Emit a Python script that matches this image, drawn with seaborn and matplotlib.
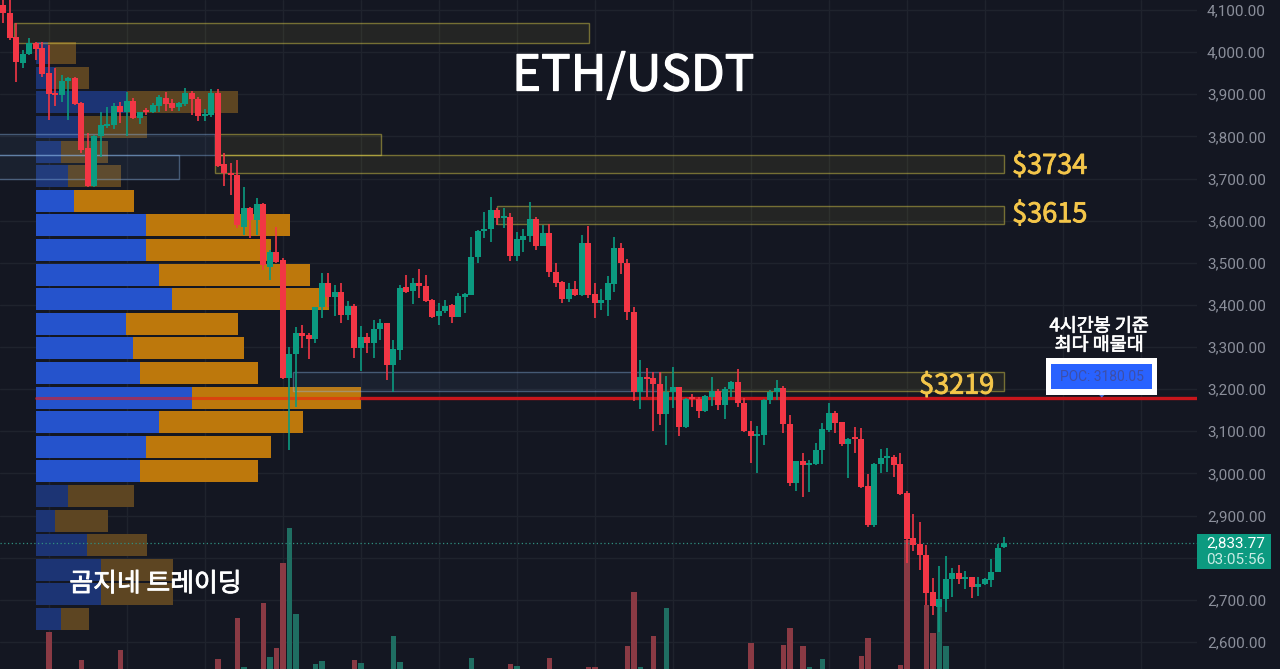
import numpy as np
import pandas as pd
import matplotlib
matplotlib.use("Agg")
import matplotlib.pyplot as plt
import matplotlib.patheffects as pe
from matplotlib.patches import Rectangle, Polygon
import seaborn as sns

# ---------- data ----------
opens = [4112,4093,4036,3974,3995,4022,4010,3950,3903,3898,3931,3939,3879,3772,3682,3801,3825,3827,3872,3858,
         3884,3844,3863,3858,3872,3891,3879,3870,3877,3903,3889,3848,3851,3903,3734,3713,3708,3585,3630,3602,
         3640,3490,3526,3507,3226,3283,3333,3329,3319,3395,3452,3419,3431,3376,3397,3298,3324,3310,3343,3357,
         3257,3293,3443,3433,3452,3445,3412,3374,3386,3400,3371,3419,3424,3514,3575,3580,3625,3606,3609,3516,
         3554,3564,3604,3540,3571,3478,3454,3414,3438,3424,3547,3426,3405,3412,3450,3535,3499,3383,3193,3229,
         3226,3212,3141,3193,3205,3110,3179,3177,3148,3181,3196,3162,3200,3217,3167,3101,3089,3091,3174,3193,
         3203,3117,2977,3030,3020,3022,3056,3103,3143,3122,3070,3084,3082,2970,2878,3022,3037,3039,3022,2954,
         2847,2832,2806,2718,2683,2702,2749,2764,2749,2754,2730,2737,2747,2766,2826]
highs = [4128,4124,4069,4005,4034,4024,4024,4017,3962,3946,3941,3941,3881,3808,3803,3858,3870,3879,3882,3905,
         3891,3858,3867,3879,3898,3905,3889,3882,3915,3908,3893,3865,3912,3912,3761,3737,3744,3680,3632,3654,
         3642,3530,3585,3511,3300,3348,3352,3333,3395,3476,3476,3447,3452,3409,3402,3350,3333,3364,3367,3357,
         3317,3447,3471,3464,3485,3471,3414,3405,3412,3402,3428,3428,3561,3578,3620,3656,3630,3630,3618,3573,
         3580,3644,3609,3590,3592,3499,3457,3452,3457,3566,3587,3452,3438,3469,3561,3547,3509,3395,3269,3250,
         3241,3241,3231,3253,3205,3179,3188,3181,3186,3229,3200,3205,3219,3248,3179,3125,3113,3177,3198,3222,
         3207,3139,3030,3049,3032,3072,3120,3167,3148,3122,3084,3110,3108,2999,3025,3058,3060,3044,3049,2958,
         2904,2885,2830,2752,2780,2804,2776,2783,2768,2754,2754,2752,2797,2833,2849]
lows = [4069,4029,3929,3962,3993,3981,3941,3839,3872,3882,3839,3875,3760,3680,3680,3751,3820,3817,3832,3801,
        3841,3829,3851,3856,3858,3860,3860,3860,3872,3851,3836,3836,3846,3727,3682,3661,3583,3566,3559,3566,
        3483,3459,3500,3224,3056,3158,3298,3272,3310,3369,3395,3374,3357,3364,3274,3243,3286,3274,3317,3222,
        3193,3269,3428,3402,3416,3407,3369,3352,3381,3357,3371,3381,3424,3499,3559,3549,3590,3583,3504,3504,
        3526,3549,3530,3540,3466,3443,3405,3407,3421,3421,3416,3369,3388,3374,3431,3473,3364,3172,3153,3181,
        3101,3115,3067,3155,3089,3108,3158,3132,3146,3160,3150,3129,3181,3158,3098,3025,3001,3067,3165,3174,
        3096,2970,2958,2944,2956,3020,3022,3098,3096,3065,2989,3049,2965,2873,2873,3001,3003,2992,2949,2787,
        2816,2771,2688,2664,2624,2671,2707,2737,2726,2704,2709,2735,2730,2766,2822]
closes = [4093,4033,3976,3995,4022,4007,3948,3901,3898,3931,3939,3877,3768,3682,3801,3827,3829,3872,3858,3884,
          3844,3858,3858,3875,3893,3877,3867,3879,3903,3889,3848,3853,3903,3730,3713,3708,3590,3630,3602,3640,
          3495,3526,3502,3226,3283,3333,3326,3319,3395,3452,3419,3431,3376,3397,3298,3324,3310,3343,3357,3257,
          3295,3440,3431,3452,3445,3409,3371,3386,3397,3371,3421,3426,3514,3575,3580,3625,3606,3609,3516,3556,
          3564,3604,3540,3571,3478,3452,3414,3438,3424,3547,3424,3405,3412,3452,3535,3499,3383,3193,3229,3224,
          3212,3141,3193,3205,3110,3177,3177,3148,3184,3196,3162,3200,3217,3167,3101,3089,3094,3174,3193,3203,
          3117,2977,3030,3020,3025,3056,3105,3143,3120,3070,3082,3082,2968,2878,3022,3037,3039,3020,2951,2844,
          2830,2806,2716,2685,2702,2749,2764,2749,2754,2730,2737,2749,2766,2823,2834]

volume_candle = [7,12,18,33,36,37,40,41,42,43,44,45,48,49,54,55,60,61,72,78,79,84,90,91,96,97,98,100,102,
                 115,120,121,123,124,126,132,133,138,139,142,143,144,145]
volume_value = [48,20,30,21,62,13,77,23,32,117,152,66,16,19,20,17,44,18,22,16,14,22,13,13,34,88,13,44,72,
                37,35,52,34,13,21,24,42,15,140,75,47,80,34]

profile_price = [3998,3939,3881,3823,3764,3706,3647,3589,3530,3472,3414,3355,3297,3238,3180,3122,3063,3005,
                 2946,2888,2830,2771,2713,2654]
profile_buy = [12,19,91,47,25,32,38,110,110,123,136,90,97,104,156,123,110,104,32,19,51,65,65,25]
profile_sell = [28,34,111,64,47,53,60,144,125,151,157,112,111,118,169,144,125,118,66,53,60,72,72,28]
profile_value_area = [False]*6 + [True]*12 + [False]*6

tick_prices = [4100,4000,3900,3800,3700,3600,3500,3400,3300,3200,3100,3000,2900,2800,2700,2600]
tick_labels = ["4,100.00","4,000.00","3,900.00","3,800.00","3,700.00","3,600.00","3,500.00","3,400.00",
               "3,300.00","3,200.00","3,100.00","3,000.00","2,900.00","","2,700.00","2,600.00"]
last_price = 2833.77
poc_price = 3180.05

# zones: first candle, last candle, upper price, lower price
yellow_zones = [(1.7,90.1,4069,4022),(32.6,58.1,3806,3756),(32.6,154,3756,3713),
                (76,154,3635,3592),(101,154,3241,3196)]
blue_zones = [(-1,32.6,3806,3756),(-1,27,3756,3699),(44.5,101,3241,3196)]

# ---------- style ----------
BG = "#141722"
GRID = "#1f232d"
RED = "#f23645"
GREEN = "#0b9a80"
sns.set_theme(style="dark", rc={"figure.facecolor": BG, "axes.facecolor": BG, "savefig.facecolor": BG})
plt.rcParams["font.family"] = ["Noto Sans CJK KR", "DejaVu Sans"]

XLIM = (-0.508, 183.65)
YLIM = (2535.8, 4123.7)
fig = plt.figure(figsize=(12.8, 6.69), dpi=100)
rect = [0, 0, 1197/1280, 1]
ax_base = fig.add_axes(rect, zorder=1)
ax_vol = fig.add_axes(rect, zorder=2, facecolor="none")
ax_prof = fig.add_axes(rect, zorder=3, facecolor="none")
ax = fig.add_axes(rect, zorder=4, facecolor="none")

# grid
ax_base.set_xlim(XLIM); ax_base.set_ylim(YLIM)
ax_base.set_xticks(np.arange(7, 184, 12))
ax_base.set_yticks(tick_prices)
ax_base.set_xticklabels([]); ax_base.set_yticklabels([])
ax_base.grid(True, color=GRID, lw=1)
ax_base.tick_params(length=0)

# volume bars
vol_df = pd.DataFrame({"i": volume_candle, "v": volume_value})
vol_df["up"] = [closes[i] >= opens[i] for i in volume_candle]
for up, col in ((True, "#1f6e62"), (False, "#8a3a44")):
    sns.barplot(data=vol_df[vol_df.up == up], x="i", y="v", native_scale=True, ax=ax_vol,
                color=col, saturation=1, errorbar=None, width=0.85, linewidth=0)
ax_vol.set_xlim(XLIM); ax_vol.set_ylim(11, 680)

# volume profile
prof = pd.DataFrame({"price": profile_price, "buy": profile_buy, "sell": profile_sell,
                     "va": profile_value_area})
prof["total"] = prof.buy + prof.sell
for va, blue, orange in ((True, "#2553cc", "#bd780c"), (False, "#1c3474", "#5d4522")):
    sub = prof[prof.va == va]
    sns.barplot(data=sub, x="total", y="price", orient="y", native_scale=True, ax=ax_prof,
                color=orange, saturation=1, errorbar=None, width=0.9, linewidth=0)
    sns.barplot(data=sub, x="buy", y="price", orient="y", native_scale=True, ax=ax_prof,
                color=blue, saturation=1, errorbar=None, width=0.9, linewidth=0)
ax_prof.set_xlim(-36, 1161); ax_prof.set_ylim(YLIM)

# zones below candles
for x0, x1, top, bot in blue_zones:
    ax.add_patch(Rectangle((x0, bot), x1-x0, top-bot, fc=(0.45, 0.65, 0.9, 0.07),
                           ec=(0.55, 0.72, 0.92, 0.4), lw=1, zorder=1))
for x0, x1, top, bot in yellow_zones:
    ax.add_patch(Rectangle((x0, bot), x1-x0, top-bot, fc=(1, 0.92, 0.25, 0.07),
                           ec=(0.95, 0.88, 0.3, 0.42), lw=1, zorder=1))

# POC line
ax.plot([5, 55], [poc_price, poc_price], color="#f01a10", alpha=0.55, lw=2.2, zorder=2)
ax.plot([55, XLIM[1]], [poc_price, poc_price], color="#c8161c", lw=2.4, zorder=2)
ax.axhline(last_price, color="#2f8f80", lw=0.9, ls=(0, (1, 2)), zorder=2)

# candles
df = pd.DataFrame({"i": range(len(opens)), "o": opens, "h": highs, "l": lows, "c": closes})
df["up"] = df.c >= df.o
df["base"] = df[["o", "c"]].min(axis=1)
df["size"] = (df.c - df.o).abs().clip(lower=4)
ax.vlines(df.i, df.l, df.h, colors=[GREEN if u else RED for u in df.up], lw=1.2, zorder=3)
for up, col in ((True, GREEN), (False, RED)):
    sub = df[df.up == up]
    sns.barplot(data=sub, x="i", y="size", native_scale=True, ax=ax, color=col, saturation=1,
                errorbar=None, width=0.9, linewidth=0, bottom=sub["base"].values, zorder=4)

ax.set_xlim(XLIM); ax.set_ylim(YLIM)

for a in (ax_vol, ax_prof):
    a.set_xticks([]); a.set_yticks([]); a.set_xlabel(""); a.set_ylabel("")
    a.patch.set_visible(False)
for a in (ax_base, ax_vol, ax_prof, ax):
    for s in a.spines.values():
        s.set_visible(False)

# price scale
ax.set_xticks([]); ax.set_xlabel(""); ax.set_ylabel("")
ax.yaxis.tick_right()
ax.set_yticks(tick_prices)
ax.set_yticklabels(tick_labels, fontfamily=["Roboto", "DejaVu Sans"], fontsize=11, color="#8b8f9b")
ax.tick_params(axis="y", length=0, pad=7.2)

# last-price tag
ax.add_patch(Rectangle((183.65, 2773), 11.4, 83, fc="#0c9a80", ec="none", clip_on=False, zorder=5))
ax.text(194.2, 2833, "2,833.77", color="white", ha="right", va="center", fontsize=11,
        fontfamily=["Roboto", "DejaVu Sans"], clip_on=False, zorder=6)
ax.text(194.2, 2795, "03:05:56", color="#c9ece5", ha="right", va="center", fontsize=11,
        fontfamily=["Roboto", "DejaVu Sans"], clip_on=False, zorder=6)

# POC label
ax.add_patch(Rectangle((160.4, 3186), 17.1, 88, fc="white", ec="none", zorder=6))
ax.add_patch(Rectangle((161.2, 3200), 15.5, 60, fc="#2962ff", ec="none", zorder=7))
ax.add_patch(Polygon([(168.6, 3186), (169.0, 3180), (169.4, 3186)], fc="#4a78e0", ec="none", zorder=6))
ax.text(168.95, 3229, "POC: 3180.05", color="#3d4fa8", ha="center", va="center", fontsize=10,
        fontfamily=["Roboto", "DejaVu Sans"], zorder=8)

# annotations
txt = dict(ha="center", va="center", zorder=9)
def heavy(color, w=0.6):
    return [pe.withStroke(linewidth=w, foreground=color)]
ax.text(96.9, 3942, "ETH/USDT", color="white", fontsize=35.5, path_effects=heavy("white", 0.9), **txt)
for x, p, s in ((161, 3729, "$3734"), (161, 3614, "$3615"), (146.7, 3207, "$3219")):
    ax.text(x, p, s, color="#f4c64a", fontsize=19.5, path_effects=heavy("#f4c64a"), **txt)
ax.text(168.6, 3349, "4시간봉 기준", color="white", fontsize=13.3, path_effects=heavy("white", 0.5), **txt)
ax.text(168.6, 3304, "최다 매물대", color="white", fontsize=13.3, path_effects=heavy("white", 0.5), **txt)
ax.text(23.4, 2738, "곰지네 트레이딩", color="white", fontsize=18.6, path_effects=heavy("white", 0.6), **txt)

fig.savefig("out.png", dpi=100)
